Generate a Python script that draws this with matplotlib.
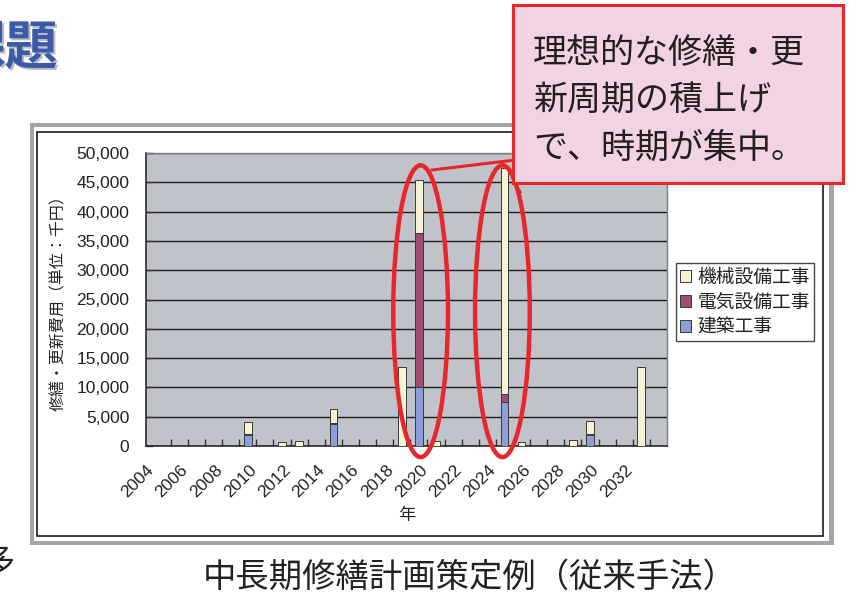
"""Stacked renewal-cost bar chart (mid/long-term maintenance plan, conventional method)."""

import matplotlib

matplotlib.use("Agg")
import matplotlib.pyplot as plt
from matplotlib.lines import Line2D
from matplotlib.patches import Ellipse, Rectangle
from matplotlib.ticker import FuncFormatter, MultipleLocator

plt.rcParams["font.family"] = ["Noto Sans CJK JP", "DejaVu Sans"]

# --- data ------------------------------------------------------------------
years = [2004, 2005, 2006, 2007, 2008, 2009, 2010, 2011, 2012, 2013,
         2014, 2015, 2016, 2017, 2018, 2019, 2020, 2021, 2022, 2023,
         2024, 2025, 2026, 2027, 2028, 2029, 2030, 2031, 2032, 2033]
building = [0, 0, 0, 0, 0, 1800, 0, 0, 0, 0,
            3700, 0, 0, 0, 0, 10100, 0, 0, 0, 0,
            7500, 0, 0, 0, 0, 1800, 0, 0, 0, 0]
electrical = [0, 0, 0, 0, 0, 300, 150, 0, 0, 0,
              300, 0, 150, 0, 0, 26200, 0, 0, 150, 0,
              1300, 0, 0, 0, 0, 300, 0, 0, 0, 0]
mechanical = [0, 0, 0, 0, 0, 2000, 0, 600, 900, 0,
              2300, 0, 0, 0, 13500, 9100, 800, 0, 0, 0,
              38600, 600, 0, 0, 1100, 2100, 0, 0, 13500, 0]
label_years = ["2004", "2006", "2008", "2010", "2012", "2014", "2016", "2018",
               "2020", "2022", "2024", "2026", "2028", "2030", "2032"]
series_names = ["建築工事", "電気設備工事", "機械設備工事"]
highlight_years = [2019, 2024]

callout_lines = ["理想的な修繕・更", "新周期の積上げ", "で、時期が集中。"]
caption = "中長期修繕計画策定例（従来手法）"
ylabel = "修繕・更新費用（単位：千円）"

C_BLD = "#8f9dd6"
C_ELE = "#9e4e75"
C_MEC = "#f6f4d4"
RED = "#e8262b"

W, H = 859, 598


def fx(x):
    return x / W


def fy(y):
    return 1 - y / H


fig = plt.figure(figsize=(W / 100, H / 100), dpi=100)

# slide frame around the chart
fig.add_artist(Rectangle((fx(30), fy(545)), fx(804), 422 / H, facecolor="#a2a6ab",
                         edgecolor="none", zorder=-3))
fig.add_artist(Rectangle((fx(34), fy(541)), fx(795), 414 / H, facecolor="white",
                         edgecolor="none", zorder=-2))
fig.add_artist(Rectangle((fx(37), fy(536)), fx(786), 404 / H, facecolor="white",
                         edgecolor="#1a1a1a", linewidth=1.2, zorder=-1))

ax = fig.add_axes([fx(146), fy(446), (667 - 146) / W, (446 - 153) / H])
ax.set_facecolor("#c0c3ca")

bw = 0.45
bottom2 = [b + e for b, e in zip(building, electrical)]
ax.bar(years, building, width=bw, color=C_BLD, edgecolor="#3a3a3a", linewidth=0.7,
       label=series_names[0], zorder=3)
ax.bar(years, electrical, bottom=building, width=bw, color=C_ELE, edgecolor="#3a3a3a",
       linewidth=0.7, label=series_names[1], zorder=3)
ax.bar(years, mechanical, bottom=bottom2, width=bw, color=C_MEC, edgecolor="#3a3a3a",
       linewidth=0.7, label=series_names[2], zorder=3)

ax.set_xlim(years[0] - 0.5, years[-1] + 0.5)
ax.set_ylim(0, 50000)
ax.yaxis.set_major_locator(MultipleLocator(5000))
ax.yaxis.set_major_formatter(FuncFormatter(lambda v, p: f"{v:,.0f}"))
ax.set_axisbelow(True)
ax.yaxis.grid(True, color="#1e1e1e", linewidth=1.0)
ax.get_ygridlines()[-1].set_color("#7d8086")

# category tick marks on the boundaries, labels every other year
ax.set_xticks([y - 0.5 for y in years[1:]], minor=True)
ax.set_xticks([int(s) - 0.95 for s in label_years])
ax.set_xticklabels(label_years, rotation=45, ha="right", va="top",
                   rotation_mode="anchor", fontfamily="Liberation Sans", fontsize=12.5,
                   color="#222222")
ax.tick_params(axis="x", which="major", length=0, pad=12)
ax.tick_params(axis="x", which="minor", direction="in", length=5, width=1.0,
               color="#333333")
ax.tick_params(axis="y", direction="in", length=5, width=1.0, color="#333333",
               pad=12, labelsize=12.5, labelcolor="#222222")
for lab in ax.get_yticklabels():
    lab.set_fontfamily("Liberation Sans")

for side in ["top", "right"]:
    ax.spines[side].set_color("#7d8086")
    ax.spines[side].set_linewidth(1.0)
for side in ["left", "bottom"]:
    ax.spines[side].set_color("#2a2a2a")
    ax.spines[side].set_linewidth(1.2)

# red ellipses around the concentrated years
ell_offsets = [0.1, -0.12]
for yr, off in zip(highlight_years, ell_offsets):
    ax.add_patch(Ellipse((yr + off, 23000), 3.2, 49800, fill=False, edgecolor=RED,
                         linewidth=3.2, clip_on=False, zorder=5))

fig.text(fx(59), fy(299), ylabel, rotation=90, ha="center", va="center",
         fontsize=11.5, color="#222222")
fig.text(fx(407), fy(515), "年", ha="center", va="center", fontsize=12.5,
         color="#222222")

handles, labels = ax.get_legend_handles_labels()
leg = fig.legend(handles[::-1], labels[::-1], loc="upper left",
                 bbox_to_anchor=(fx(676), fy(263)), fontsize=13.5, frameon=True,
                 fancybox=False, edgecolor="#1a1a1a", handlelength=0.6,
                 handleheight=0.6, handletextpad=0.35, borderpad=0.2,
                 labelspacing=0.2, borderaxespad=0)
leg.get_frame().set_linewidth(1.0)
for t in leg.get_texts():
    t.set_color("#222222")

# callout box with pointers
fig.add_artist(Line2D([fx(432), fx(515)], [fy(170), fy(160)], color=RED, linewidth=2.2,
                      zorder=6))
fig.add_artist(Line2D([fx(514), fx(520)], [fy(182), fy(192)], color=RED, linewidth=2.2,
                      zorder=6))
fig.add_artist(Rectangle((fx(513), fy(183)), (843 - 513) / W, (183 - 5) / H,
                         facecolor="#f2d3e2", edgecolor=RED, linewidth=2.2, zorder=7))
for i, line in enumerate(callout_lines):
    fig.text(fx(533), fy(53 + 47.5 * i), line, ha="left", va="center", fontsize=24.5,
             color="#231f20", zorder=8)

# slide fragments around the chart
fig.text(fx(60), fy(50), "課題", ha="right", va="center", fontsize=38,
         fontweight="bold", color="#b9bcc2")
fig.text(fx(58), fy(48), "課題", ha="right", va="center", fontsize=38,
         fontweight="bold", color="#3c5aa8")
fig.text(fx(15), fy(562), "多", ha="right", va="center", fontsize=24, color="#222222")
fig.text(fx(470), fy(577), caption, ha="center", va="center", fontsize=24,
         color="#222222")

fig.savefig("out.png", dpi=100)
